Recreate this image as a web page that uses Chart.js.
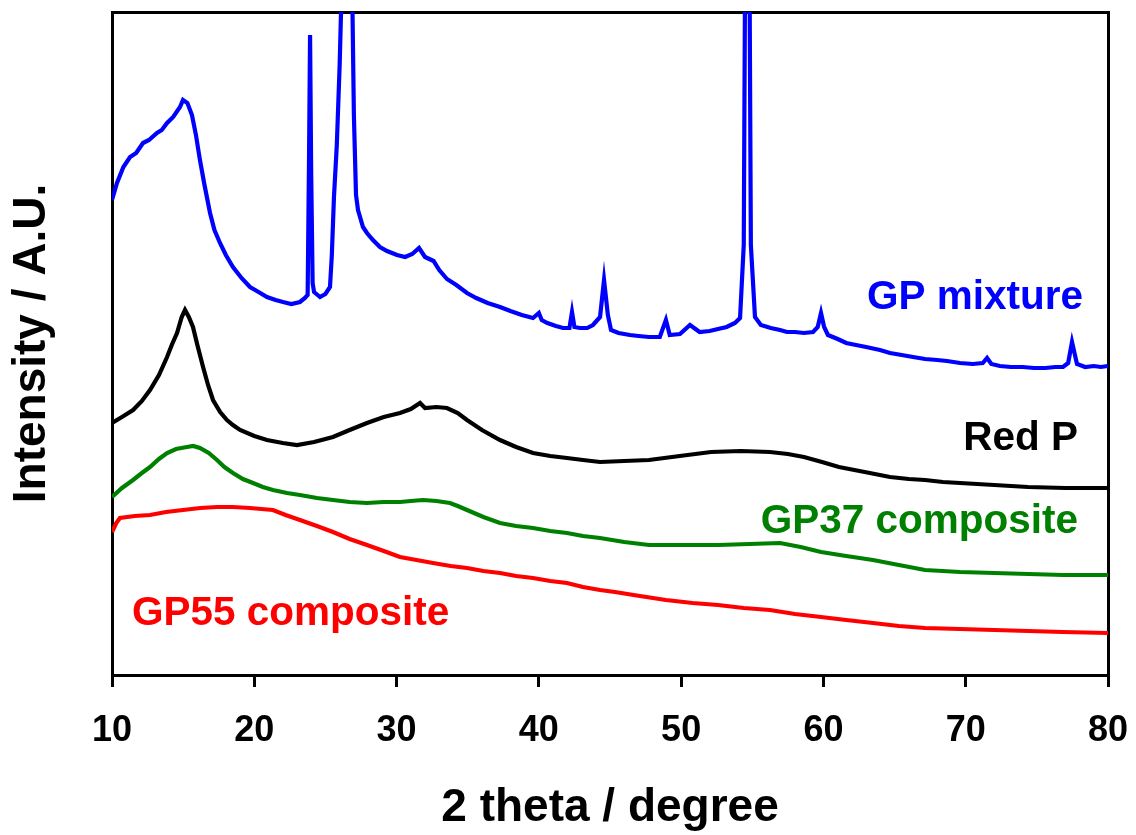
<!DOCTYPE html>
<html>
<head>
<meta charset="utf-8">
<script src="https://cdn.jsdelivr.net/npm/chart.js@4.4.1/dist/chart.umd.min.js"></script>
<style>
  html, body { margin: 0; padding: 0; background: #fff; }
  #wrap { width: 1136px; height: 835px; }
</style>
</head>
<body>
<div id="wrap"><canvas id="c" width="1136" height="835"></canvas></div>
<script>
// ---- data (2 theta in degrees, intensity in arbitrary units with offsets as in the figure) ----
const xTicks = [10, 20, 30, 40, 50, 60, 70, 80];

const gpMixtureTheta = [10, 10.35, 10.8, 11.27, 11.7, 12.18, 12.6, 13.16, 13.5, 13.87, 14.3, 14.78, 14.99, 15.3, 15.62, 15.9, 16.18, 16.5, 16.89, 17.2, 17.59, 18.0, 18.5, 19.1, 19.7, 20.3, 20.89, 21.5, 22.02, 22.6, 23.21, 23.56, 23.75, 23.85, 23.92, 24.0, 24.1, 24.2, 24.62, 25.0, 25.32, 25.45, 25.6, 25.8, 26.0, 26.2, 26.5, 26.85, 27.0, 27.15, 27.29, 27.64, 27.92, 28.34, 28.83, 29.33, 30.03, 30.6, 31.1, 31.58, 32.0, 32.6, 33.0, 33.54, 34.2, 34.95, 35.6, 36.4, 37.27, 38.0, 38.8, 39.59, 40.0, 40.2, 40.6, 41.2, 41.7, 42.15, 42.33, 42.5, 42.89, 43.4, 43.8, 44.3, 44.58, 44.85, 45.07, 45.6, 46.4, 47.0, 47.74, 48.5, 48.93, 49.2, 49.92, 50.62, 51.3, 52.0, 52.59, 53.2, 53.78, 54.14, 54.4, 54.5, 54.65, 54.8, 54.9, 55.19, 55.6, 56.3, 56.95, 57.44, 58.0, 58.63, 59.27, 59.6, 59.83, 60.05, 60.32, 61.0, 61.6, 62.29, 63.0, 63.97, 64.68, 65.5, 66.3, 67.14, 68.0, 68.68, 69.6, 70.5, 71.2, 71.5, 71.8, 72.4, 73.18, 74.0, 74.8, 75.6, 76.3, 76.84, 77.2, 77.47, 77.82, 78.4, 79.0, 79.5, 80];
const gpMixtureIntensity = [475, 492, 508, 518, 522, 532, 535, 542, 545, 552, 558, 568, 575, 572, 560, 540, 515, 490, 462, 445, 432, 420, 408, 397, 388, 383, 378, 375, 373, 371, 373, 377, 380, 520, 640, 500, 392, 383, 378, 381, 388, 420, 478, 530, 610, 720, 900, 720, 560, 480, 465, 448, 442, 435, 428, 424, 420, 418, 421, 427, 418, 414, 405, 396, 390, 382, 377, 372, 368, 364, 360, 357, 362, 355, 352, 349, 347, 347, 363, 348, 347, 347, 350, 358, 395, 360, 345, 342, 340, 339, 338, 338, 355, 340, 341, 350, 343, 344, 346, 348, 352, 357, 430, 720, 900, 720, 430, 358, 350, 347, 345, 343, 343, 342, 343, 348, 362, 348, 340, 336, 332, 330, 328, 325, 322, 320, 318, 316, 315, 314, 312, 311, 312, 317, 311, 309, 308, 308, 307, 307, 308, 308, 312, 333, 311, 308, 309, 308, 309];

const redPTheta = [10, 10.7, 11.48, 12.1, 12.67, 13.3, 13.87, 14.2, 14.57, 14.9, 15.13, 15.4, 15.69, 16.0, 16.4, 16.75, 17.1, 17.6, 18.08, 18.5, 19.0, 20.0, 20.89, 22.0, 23.0, 24.2, 25.53, 26.7, 27.92, 29.1, 30.24, 31.0, 31.65, 32.0, 32.8, 33.54, 34.3, 34.95, 36.0, 37.27, 38.4, 39.59, 40.8, 41.98, 43.1, 44.3, 46.0, 47.74, 49.9, 52.1, 54.2, 56.24, 57.5, 58.63, 59.9, 61.09, 62.9, 64.68, 66.0, 67.14, 68.4, 69.6, 72.0, 74.38, 77.0, 80];
const redPIntensity = [252, 258, 265, 274, 285, 300, 318, 330, 342, 358, 365, 358, 348, 330, 308, 290, 275, 263, 255, 250, 245, 239, 235, 232, 230, 233, 238, 245, 252, 258, 262, 266, 272, 267, 268, 267, 262, 255, 245, 235, 228, 222, 219, 217, 215, 213, 214, 215, 219, 223, 224, 223, 221, 218, 213, 208, 203, 198, 196, 195, 193, 192, 190, 188, 187, 187];

const gp37Theta = [10, 10.7, 11.48, 12.1, 12.67, 13.3, 13.87, 14.5, 15.27, 15.7, 16.18, 16.8, 17.38, 17.9, 18.5, 19.2, 19.91, 20.6, 21.31, 22.3, 23.21, 24.4, 25.53, 26.7, 27.92, 29.1, 30.24, 31.0, 31.86, 32.8, 33.75, 34.3, 34.95, 36.1, 37.27, 38.4, 39.59, 40.8, 41.98, 43.1, 44.3, 46.0, 47.74, 50.2, 52.59, 54.8, 56.95, 58.4, 59.83, 61.6, 63.48, 65.3, 67.14, 69.6, 72.0, 74.4, 76.84, 80];
const gp37Intensity = [178, 187, 195, 202, 208, 216, 222, 226, 228, 229, 227, 222, 215, 208, 202, 196, 192, 188, 185, 182, 180, 177, 175, 173, 172, 173, 173, 174, 175, 174, 172, 169, 165, 158, 152, 149, 147, 144, 142, 139, 137, 133, 130, 130, 130, 131, 132, 128, 123, 119, 115, 110, 105, 103, 102, 101, 100, 100];

const gp55Theta = [10, 10.3, 10.56, 11.6, 12.67, 13.8, 14.99, 16.2, 17.38, 18.5, 19.7, 20.5, 21.31, 22.2, 23.21, 24.4, 25.53, 26.7, 27.92, 29.1, 30.24, 31.4, 32.56, 33.8, 34.95, 36.1, 37.27, 38.4, 39.59, 40.8, 41.98, 43.1, 44.3, 45.35, 47.1, 48.93, 50.8, 52.59, 54.4, 56.24, 58.0, 59.83, 61.6, 63.48, 65.3, 67.14, 69.6, 72.0, 74.4, 76.84, 80];
const gp55Intensity = [143, 152, 157, 159, 160, 163, 165, 167, 168, 168, 167, 166, 165, 160, 155, 149, 143, 136, 130, 124, 118, 115, 112, 109, 107, 104, 102, 99, 97, 94, 92, 88, 85, 83, 79, 75, 72, 70, 67, 65, 61, 58, 55, 52, 49, 47, 46, 45, 44, 43, 42];

const seriesNames = ['GP mixture', 'Red P', 'GP37 composite', 'GP55 composite'];
const seriesColors = ['#0000FF', '#000000', '#008000', '#FF0000'];

// label anchors in data units
const labelTheta = [78.24, 77.9, 77.9, 11.4];
const labelIntensity = [377, 236, 153, 61];
const labelAlign = ['right', 'right', 'right', 'left'];

// ---- chart ----
const FONT = "'Liberation Sans', Arial, Helvetica, sans-serif";

function toPoints(xs, ys) { return xs.map((x, i) => ({ x: x, y: ys[i] })); }

const allSeries = [
  toPoints(gpMixtureTheta, gpMixtureIntensity),
  toPoints(redPTheta, redPIntensity),
  toPoints(gp37Theta, gp37Intensity),
  toPoints(gp55Theta, gp55Intensity)
];

const inlineLabels = {
  id: 'inlineLabels',
  afterDatasetsDraw(chart) {
    const ctx = chart.ctx;
    const xs = chart.scales.x, ys = chart.scales.y;
    ctx.save();
    ctx.font = 'bold 40.5px ' + FONT;
    ctx.textBaseline = 'middle';
    seriesNames.forEach((name, i) => {
      ctx.fillStyle = seriesColors[i];
      ctx.textAlign = labelAlign[i];
      ctx.fillText(name, xs.getPixelForValue(labelTheta[i]), ys.getPixelForValue(labelIntensity[i]));
    });
    ctx.restore();
  }
};

new Chart(document.getElementById('c'), {
  type: 'line',
  data: {
    datasets: allSeries.map((pts, i) => ({
      label: seriesNames[i],
      data: pts,
      borderColor: seriesColors[i],
      backgroundColor: seriesColors[i],
      borderWidth: 4.2,
      pointRadius: 0,
      tension: 0,
      fill: false,
      xAxisID: 'x',
      yAxisID: 'y'
    }))
  },
  options: {
    responsive: false,
    animation: false,
    devicePixelRatio: 1,
    layout: { padding: { top: 12, right: 28, left: 0, bottom: 0 } },
    plugins: { legend: { display: false }, tooltip: { enabled: false } },
    scales: {
      x: {
        type: 'linear',
        position: 'bottom',
        min: 10, max: 80,
        afterBuildTicks: (s) => { s.ticks = xTicks.map(v => ({ value: v })); },
        afterFit: (s) => { s.height = 160; s.paddingLeft = 0; s.paddingRight = 0; },
        ticks: {
          color: '#000',
          font: { family: FONT, size: 36, weight: 'bold' },
          padding: 22,
          maxRotation: 0
        },
        grid: { display: true, drawOnChartArea: false, drawTicks: true, tickLength: 12, lineWidth: 3, color: '#000' },
        border: { display: true, color: '#000', width: 3 },
        title: {
          display: true,
          text: '2 theta / degree',
          color: '#000',
          font: { family: FONT, size: 46, weight: 'bold', lineHeight: 1.1 },
          padding: { top: 0, bottom: 1 }
        }
      },
      y: {
        type: 'linear',
        position: 'left',
        min: 0, max: 663,
        afterFit: (s) => { s.width = 112; },
        ticks: { display: false },
        grid: { display: false, drawTicks: false },
        border: { display: true, color: '#000', width: 3 },
        title: {
          display: true,
          text: 'Intensity / A.U.',
          color: '#000',
          font: { family: FONT, size: 46, weight: 'bold', lineHeight: 1.2 },
          padding: { top: 5, bottom: 0 }
        }
      },
      x2: {
        type: 'linear',
        position: 'top',
        display: true,
        min: 10, max: 80,
        afterFit: (s) => { s.height = 0; s.paddingLeft = 0; s.paddingRight = 0; },
        ticks: { display: false },
        grid: { display: false, drawTicks: false },
        border: { display: true, color: '#000', width: 3 }
      },
      y2: {
        type: 'linear',
        position: 'right',
        display: true,
        min: 0, max: 663,
        afterFit: (s) => { s.width = 0; },
        ticks: { display: false },
        grid: { display: false, drawTicks: false },
        border: { display: true, color: '#000', width: 3 }
      }
    }
  },
  plugins: [inlineLabels]
});
</script>
</body>
</html>
